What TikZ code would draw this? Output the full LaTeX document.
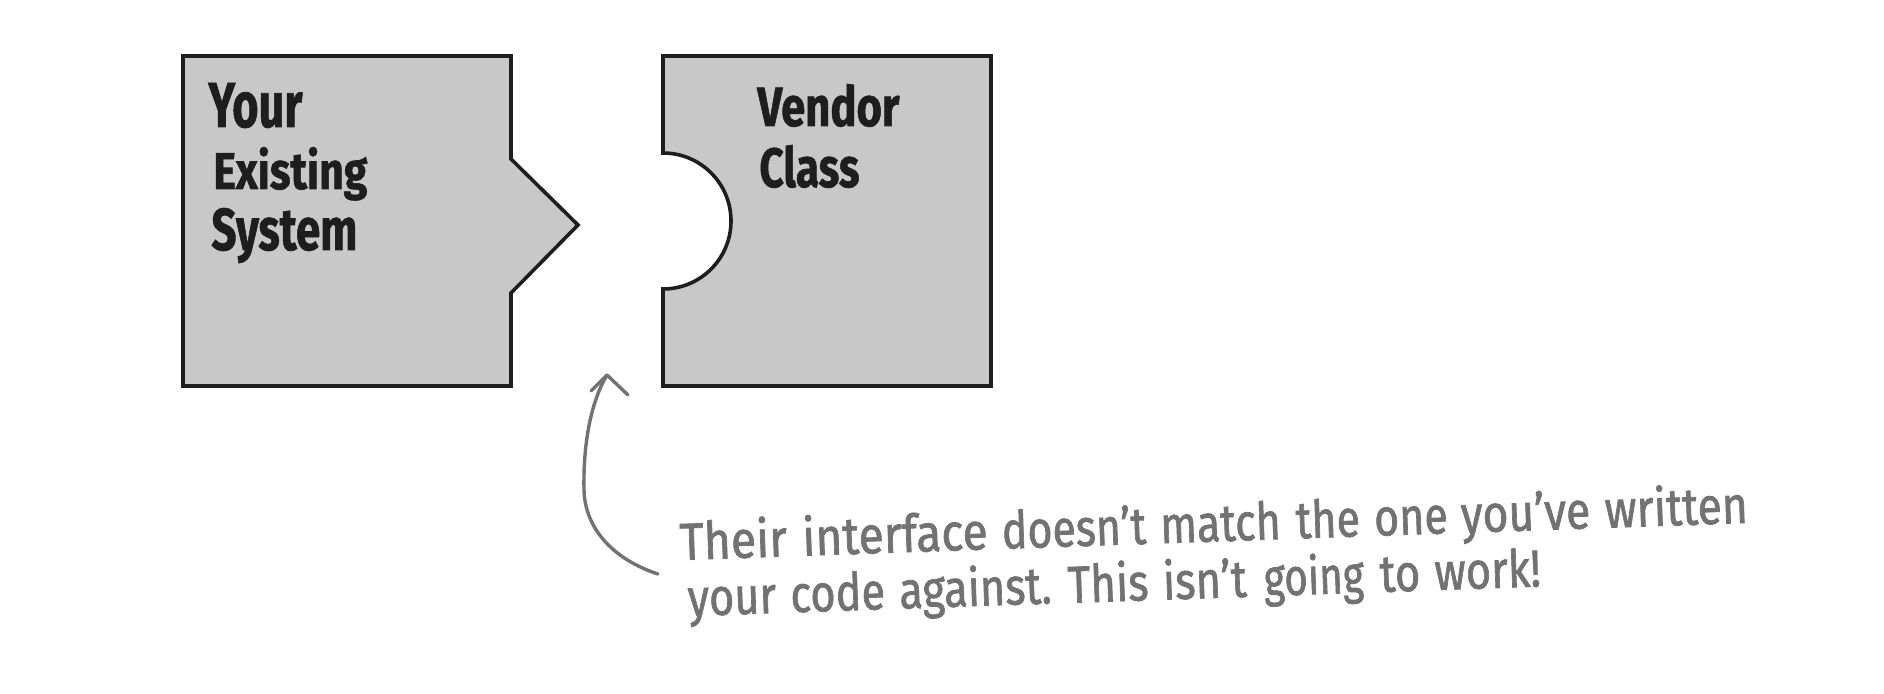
\documentclass[tikz,border=0pt]{standalone}
\usepackage{fontspec}
\setmainfont{Fira Sans}
\newfontfamily\labelfont{Fira Sans}[FakeBold=1.2]
\newfontfamily\notefont{Fira Sans}[FakeBold=1.5]
\usepackage{graphicx}
\definecolor{piecefill}{HTML}{C8C8C8}
\definecolor{pieceline}{HTML}{1E1E1E}
\definecolor{notegray}{HTML}{727272}
\newcommand{\fitword}[3]{\resizebox{#1}{#2}{#3}}
\newcommand{\fitwide}[2]{\resizebox{#1}{\height}{\spaceskip=0.33em\relax #2}}
\begin{document}
\begin{tikzpicture}[x=0.5pt,y=-0.5pt,
  piece/.style={fill=piecefill,draw=pieceline,line width=1.8pt,line join=miter},
  label/.style={anchor=base west,inner sep=0pt,text=pieceline,font=\labelfont\bfseries\fontsize{24}{24}\selectfont},
  note/.style={anchor=base west,inner sep=0pt,text=notegray,rotate=2,font=\notefont\fontsize{26}{26}\selectfont},
  pointer/.style={draw=notegray,line width=1.7pt,line cap=round,line join=round}]
\useasboundingbox (0,0) rectangle (1884,694);
% left piece
\draw[piece] (183,56) -- (511,56) -- (511,159) -- (578,225) -- (511,293)
  -- (511,386) -- (183,386) -- cycle;
% right piece
\draw[piece] (663,56) -- (991,56) -- (991,386) -- (663,386) -- (663,289)
  arc[start angle=-90,end angle=90,radius=34pt] -- cycle;
% labels
\node[label] (your) at (208,127) {\fitword{47pt}{22pt}{Your}};
\node[label] (existing) at (213,189) {\fitword{77pt}{21pt}{Existing}};
\node[label] (system) at (211,250) {\fitword{73pt}{21pt}{System}};
\node[label] (vendor) at (757,126) {\fitword{71pt}{21pt}{Vendor}};
\node[label] (class) at (759,187) {\fitword{50pt}{21pt}{Class}};
% note, line 1
\node[note] (n1a) at (680,560) {\fitwide{154pt}{Their interface}};
\node[note] (n1b) at (1002,548.8) {\fitwide{139.5pt}{doesn’t match}};
\node[note] (n1c) at (1296,538.5) {\fitwide{76pt}{the one}};
\node[note] (n1d) at (1461,532.8) {\fitwide{143.5pt}{you’ve written}};
% note, line 2
\node[note] (n2a) at (688,616) {\fitwide{182pt}{your code against.}};
\node[note] (n2b) at (1068,603) {\fitwide{89.5pt}{This isn’t}};
\node[note] (n2c) at (1264,596) {\fitwide{50pt}{going}};
\node[note] (n2d) at (1380,592) {\fitwide{80.5pt}{to work!}};
% pointer
\coordinate (start) at (658,574);
\coordinate (tip) at (607,375);
\coordinate (barbL) at (591,391);
\coordinate (barbR) at (628,395);
\draw[pointer] (start) .. controls (615,560) and (585,530) .. (584,490)
  .. controls (583,440) and (592,400) .. (tip);
\draw[pointer] (barbL) -- (tip) -- (barbR);
\end{tikzpicture}
\end{document}
